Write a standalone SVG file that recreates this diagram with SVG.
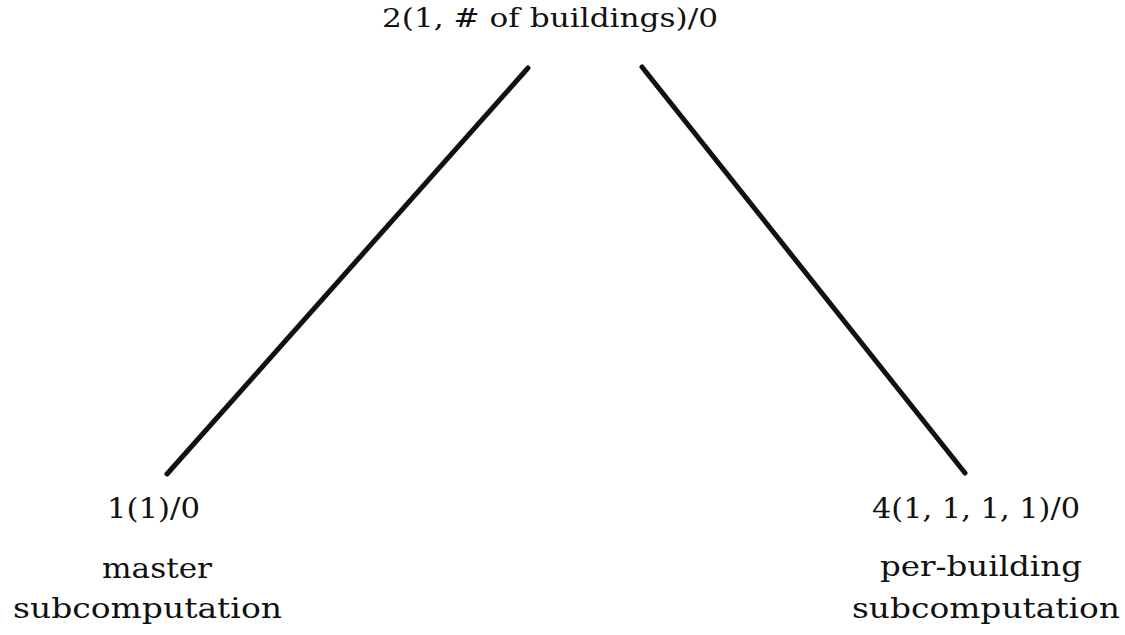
<svg xmlns="http://www.w3.org/2000/svg" width="1125" height="635" viewBox="0 0 1125 635">
<style>
.t{font-family:"DejaVu Serif","Liberation Serif",serif;fill:#111;}
.top{font-size:26px;}
.lab{font-size:28px;}
.edge{stroke:#111;stroke-width:5;stroke-linecap:round;fill:none;}
</style>
<rect width="1125" height="635" fill="#fff"/>
<g id="connectors">
<line class="edge" x1="528" y1="68" x2="167" y2="474"/>
<line class="edge" x1="642" y1="67" x2="965" y2="473"/>
</g>
<g id="node-root">
<text class="t top" x="382" y="27" textLength="336" lengthAdjust="spacingAndGlyphs">2(1, # of buildings)/0</text>
</g>
<g id="node-master">
<text class="t lab" x="107" y="518" textLength="93" lengthAdjust="spacingAndGlyphs">1(1)/0</text>
<text class="t lab" x="102" y="578" textLength="110" lengthAdjust="spacingAndGlyphs">master</text>
<text class="t lab" x="13" y="618" textLength="269" lengthAdjust="spacingAndGlyphs">subcomputation</text>
</g>
<g id="node-building">
<text class="t lab" x="872" y="518" textLength="208" lengthAdjust="spacingAndGlyphs">4(1, 1, 1, 1)/0</text>
<text class="t lab" x="880" y="576" textLength="202" lengthAdjust="spacingAndGlyphs">per-building</text>
<text class="t lab" x="852" y="618" textLength="268" lengthAdjust="spacingAndGlyphs">subcomputation</text>
</g>
</svg>
